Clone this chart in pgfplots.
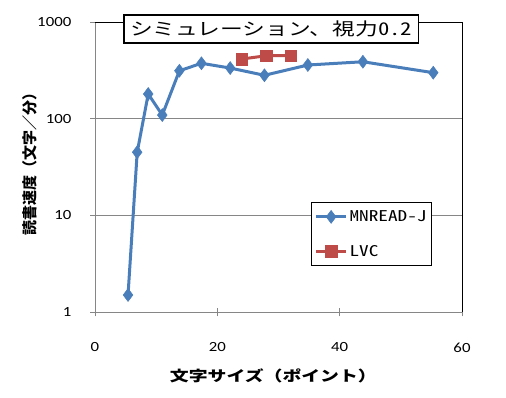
\documentclass[border=0pt]{standalone}
\usepackage{pgfplots}
\pgfplotsset{compat=1.18}
\usepackage{fontspec}
\setmainfont{Carlito}[FakeStretch=1.2]
\newfontfamily\jp{Noto Sans CJK JP}[FakeStretch=1.3]
\newfontfamily\jphw{Noto Sans CJK JP}[FakeStretch=1.3, RawFeature=+hwid]
\newfontfamily\jpy{Noto Sans CJK JP}
\definecolor{mblue}{RGB}{74,126,187}
\definecolor{mred}{RGB}{190,75,72}
\definecolor{axgray}{RGB}{134,134,134}
\begin{document}
\begin{tikzpicture}
\path[use as bounding box] (-95pt,-85pt) rectangle (411pt,312pt);
\begin{axis}[
  at={(0pt,0pt)}, anchor=south west,
  width=367pt, height=290pt, scale only axis,
  xmin=0, xmax=60, ymode=log, ymin=1, ymax=1000,
  xtick={0,20,40,60},
  ytick={1,10,100,1000}, yticklabels={1,10,100,1000},
  minor ytick={}, 
  log basis y=10,
  ymajorgrids, grid style={axgray, line width=0.8pt},
  axis x line=bottom, axis y line=left,
  axis line style={axgray, line width=0.8pt, -},
  tick style={axgray, line width=0.8pt},
  major tick length=9pt, tick align=center,
  /pgf/number format/assume math mode=true,
  ticklabel style={font=\fontsize{14}{16}\selectfont, text=black},
  yticklabel style={inner sep=0pt, xshift=-19pt},
  xticklabel style={inner sep=0pt, yshift=-26pt},
  xlabel={文字サイズ（ポイント）},
  xlabel style={at={(axis description cs:0.486,-0.2207)}, anchor=center,
    font=\jp\bfseries\fontsize{14.5}{16}\selectfont},
  ylabel={読書速度（文字／分）},
  ylabel style={at={(axis description cs:-0.177,0.524)}, anchor=center,
    font=\jpy\bfseries\fontsize{15}{16}\selectfont},
  legend style={at={(0.5886,0.379)}, anchor=north west, draw=black, line width=1.2pt,
    fill=white, font=\jphw\fontsize{14.8}{16}\selectfont, row sep=18pt,
    inner xsep=3pt, inner ysep=6pt, cells={anchor=west}},
  legend image code/.code={\draw[#1, mark repeat=2, mark phase=2] plot coordinates {(0pt,0pt) (15pt,0pt) (30pt,0pt)};},
  clip=false,
]
\addplot[color=mblue, line width=3pt, mark=diamond*, mark size=6.5pt,
  mark options={fill=mblue, draw=mblue, line width=0.5pt}]
coordinates {
(5.4,1.5) (6.9,45) (8.7,180) (11.0,109) (13.8,313) (17.4,374)
(22.1,334) (27.7,281) (34.8,359) (43.8,388) (55.3,299)
};
\addlegendentry{MNREAD-J}
\addplot[color=mred, line width=3pt, mark=square*, mark size=5.8pt,
  mark options={fill=mred, draw=mred, line width=0.5pt}]
coordinates {
(24,414) (28,448) (32,448)
};
\addlegendentry{LVC}
\draw[black, line width=0.8pt] (rel axis cs:0,1) -- (rel axis cs:1,1) -- (rel axis cs:1,0);
\node[draw=black, fill=white, line width=1.3pt, inner xsep=6pt, inner ysep=6pt,
  font=\jp\fontsize{17.5}{19}\selectfont]
  at (axis description cs:0.48,0.976) {シミュレーション、視力{\jphw 0.2}};
\end{axis}
\end{tikzpicture}
\end{document}
